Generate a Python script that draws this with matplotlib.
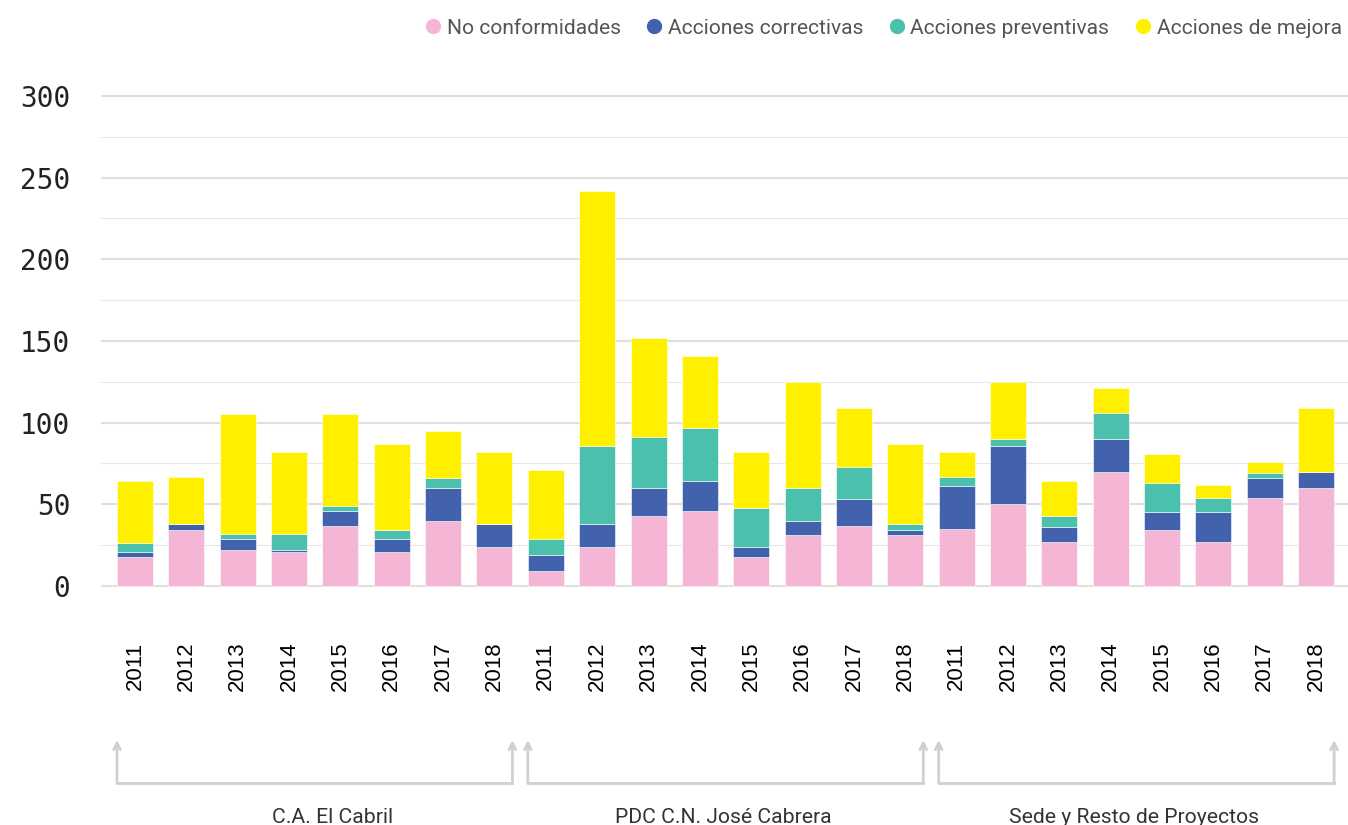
import matplotlib
matplotlib.use('Agg')
import matplotlib.pyplot as plt
from matplotlib.lines import Line2D
from matplotlib.transforms import blended_transform_factory
import numpy as np

# datos (3 grupos x 8 años)
years = ['2011', '2012', '2013', '2014', '2015', '2016', '2017', '2018'] * 3
groups = ['C.A. El Cabril', 'PDC C.N. José Cabrera', 'Sede y Resto de Proyectos']
series_names = ['No conformidades', 'Acciones correctivas', 'Acciones preventivas', 'Acciones de mejora']

no_conformidades = [18, 34, 22, 21, 37, 21, 40, 24,
                    9, 24, 43, 46, 18, 31, 37, 31,
                    35, 50, 27, 70, 34, 27, 54, 60]
correctivas = [3, 4, 7, 1, 9, 8, 20, 14,
               10, 14, 17, 18, 6, 9, 16, 3,
               26, 36, 9, 20, 11, 18, 12, 10]
preventivas = [5, 0, 3, 10, 3, 5, 6, 0,
               10, 48, 31, 33, 24, 20, 20, 4,
               6, 4, 7, 16, 18, 9, 3, 0]
mejora = [38, 29, 73, 50, 56, 53, 29, 44,
          42, 156, 61, 44, 34, 65, 36, 49,
          15, 35, 21, 15, 18, 8, 7, 39]

colors = ['#F5B5D4', '#4262AD', '#4BC0AD', '#FFF000']

fig = plt.figure(figsize=(13.48, 8.25), dpi=100)
ax = fig.add_axes([0.0749, 0.2838, 0.9251, 0.6058])

x = np.arange(len(years))
bottom = np.zeros(len(years))
for vals, col in zip([no_conformidades, correctivas, preventivas, mejora], colors):
    ax.bar(x, vals, width=0.70, bottom=bottom, color=col, edgecolor='white', linewidth=0.4, zorder=3)
    bottom += np.array(vals)

ax.set_xlim(-0.662, 23.62)
ax.set_ylim(-3, 303)

# rejilla
ax.set_yticks(np.arange(0, 301, 50))
ax.set_yticks(np.arange(25, 300, 50), minor=True)
ax.grid(axis='y', which='major', color='#e0e0e0', linewidth=1.5, zorder=0)
ax.grid(axis='y', which='minor', color='#e6e6e6', linewidth=0.8, zorder=0)
ax.tick_params(axis='y', which='both', length=0, pad=22, labelsize=20, labelcolor='#222222')
for lab in ax.get_yticklabels():
    lab.set_family('DejaVu Sans Mono')

ax.set_xticks(x)
ax.set_xticklabels(years, rotation=90, va='center', fontsize=16, family='Liberation Sans', color='#000000')
ax.tick_params(axis='x', length=0, pad=54)

for s in ax.spines.values():
    s.set_visible(False)

# corchetes de grupo bajo el eje
trans = blended_transform_factory(ax.transData, fig.transFigure)
y_line = 1 - 783 / 825
y_top = 1 - 740 / 825
label_x = [3.85, 11.45, 19.45]
for g in range(3):
    x0 = g * 8 - 0.35
    x1 = g * 8 + 7 + 0.35
    ax.plot([x0, x1], [y_line, y_line], transform=trans, color='#d0d0d0', lw=2, clip_on=False)
    for xe in (x0, x1):
        ax.annotate('', xy=(xe, y_top), xytext=(xe, y_line), xycoords=trans, textcoords=trans,
                    arrowprops=dict(arrowstyle='->', color='#d0d0d0', lw=2, shrinkA=0, shrinkB=0,
                                    mutation_scale=12), annotation_clip=False)
    ax.text(label_x[g], 1 - 823 / 825, groups[g], transform=trans, ha='center', va='baseline',
            fontsize=15.2, family='Roboto', color='#333333')

# leyenda
handles = [Line2D([], [], marker='o', linestyle='', markersize=10, markerfacecolor=c,
                  markeredgecolor=c) for c in colors]
fig.legend(handles, series_names, loc='center right', bbox_to_anchor=(1.003, 0.966), ncol=4,
           frameon=False, borderpad=0, handlelength=0.8, handletextpad=0.25, columnspacing=1.2,
           prop={'family': 'Roboto', 'size': 15.1}, labelcolor='#555555')

fig.savefig('out.png', dpi=100)
